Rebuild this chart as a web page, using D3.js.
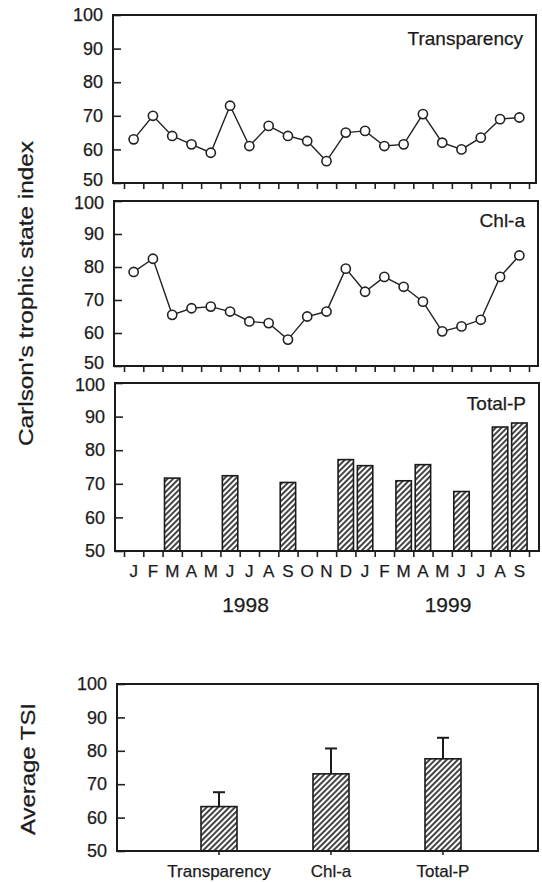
<!DOCTYPE html>
<html>
<head>
<meta charset="utf-8">
<script src="https://cdn.jsdelivr.net/npm/d3@7"></script>
<style>
  body { margin: 0; background: #fff; }
  svg { display: block; }
  text { font-family: "Liberation Sans", Arial, Helvetica, sans-serif; fill: #1b1b1b; stroke: #1b1b1b; stroke-width: 0.25; }
</style>
</head>
<body>
<svg id="chart" width="542" height="882"></svg>
<script>
// monthly data, Jan 1998 - Sep 1999
const months = ['J','F','M','A','M','J','J','A','S','O','N','D','J','F','M','A','M','J','J','A','S'];
const transparency = [63, 70, 64, 61.5, 59, 73, 61, 67, 64, 62.5, 56.5, 65, 65.5, 61, 61.5, 70.5, 62, 60, 63.5, 69, 69.5];
const chla = [78.5, 82.5, 65.5, 67.5, 68, 66.5, 63.5, 63, 58, 65, 66.5, 79.5, 72.5, 77, 74, 69.5, 60.5, 62, 64, 77, 83.5];
const totalPMonth = [2, 5, 8, 11, 12, 14, 15, 17, 19, 20];
const totalP = [71.7, 72.4, 70.4, 77.2, 75.4, 70.9, 75.7, 67.7, 86.9, 88.1];
const years = ['1998', '1999'];
const yearAt = [6.3, 16.8];   // in month units along the axis

// averages
const avgCats = ['Transparency', 'Chl-a', 'Total-P'];
const avgMean = [63.3, 73.1, 77.6];
const avgSd = [4.3, 7.6, 6.3];

const yTicks = [50, 60, 70, 80, 90, 100];

const svg = d3.select('#chart');

const defs = svg.append('defs');
defs.append('pattern')
  .attr('id', 'hatch')
  .attr('patternUnits', 'userSpaceOnUse')
  .attr('width', 4).attr('height', 4)
  .attr('patternTransform', 'rotate(45)')
  .call(p => p.append('rect').attr('width', 4).attr('height', 4).attr('fill', '#fff'))
  .append('line')
  .attr('x1', 1).attr('y1', 0).attr('x2', 1).attr('y2', 4)
  .attr('stroke', '#151515').attr('stroke-width', 1.6);

// panel boxes
const panels = [
  { left: 113, right: 536, top: 15, bottom: 183 },
  { left: 114, right: 538, top: 201, bottom: 366 },
  { left: 115, right: 539, top: 383, bottom: 551 },
  { left: 117, right: 538, top: 684, bottom: 851 }
];

const xBand = d3.scaleBand().domain(d3.range(months.length)).range([124, 529]);
const xEdge = d3.scaleLinear().domain([0, months.length]).range([124, 529]);

function frame(box, nudgeBottom, nudgeTop) {
  const y = d3.scaleLinear().domain([50, 100]).range([box.bottom, box.top]);
  const g = svg.append('g');

  g.append('g')
    .attr('transform', `translate(${box.left},0)`)
    .call(d3.axisLeft(y).tickValues(yTicks).tickSize(-8).tickPadding(10))
    .call(a => a.select('.domain').remove())
    .call(a => a.selectAll('line').attr('stroke', '#222').attr('stroke-width', 1.6))
    .call(a => a.selectAll('text').attr('font-size', 18).attr('fill', '#1b1b1b')
      .attr('dy', d => {
        // stacked panels: nudge the touching 50 / 100 labels apart
        if (nudgeBottom && d === 50) return '0.12em';
        if (nudgeTop && d === 100) return '0.42em';
        return '0.32em';
      }));

  g.append('rect')
    .attr('x', box.left).attr('y', box.top)
    .attr('width', box.right - box.left).attr('height', box.bottom - box.top)
    .attr('fill', 'none').attr('stroke', '#1b1b1b').attr('stroke-width', 2);
  return { g, y };
}

function monthTicks(g, box) {
  g.append('g')
    .attr('transform', `translate(0,${box.bottom})`)
    .call(d3.axisBottom(xEdge).tickValues(d3.range(months.length + 1)).tickSize(6).tickFormat(''))
    .call(a => a.select('.domain').remove())
    .call(a => a.selectAll('line').attr('stroke', '#222').attr('stroke-width', 1.6));
}

function title(g, box, text, baseline) {
  g.append('text')
    .attr('x', box.right - 13).attr('y', baseline)
    .attr('text-anchor', 'end').attr('font-size', 19)
    .text(text);
}

function linePanel(box, values, name, baseline, nudgeTop) {
  const { g, y } = frame(box, true, nudgeTop);
  monthTicks(g, box);
  const cx = i => xBand(i) + xBand.bandwidth() / 2;
  g.append('path')
    .datum(values)
    .attr('fill', 'none').attr('stroke', '#222').attr('stroke-width', 1.4)
    .attr('d', d3.line().x((d, i) => cx(i)).y(d => y(d)));
  g.selectAll('circle.pt')
    .data(values)
    .join('circle')
    .attr('class', 'pt')
    .attr('cx', (d, i) => cx(i)).attr('cy', d => y(d)).attr('r', 4.6)
    .attr('fill', '#fff').attr('stroke', '#222').attr('stroke-width', 1.6);
  title(g, box, name, baseline);
}

linePanel(panels[0], transparency, 'Transparency', 45, false);
linePanel(panels[1], chla, 'Chl-a', 227, true);

// Total-P bars
{
  const box = panels[2];
  const { g, y } = frame(box, false, true);
  const bw = xBand.bandwidth() * 0.8;
  g.selectAll('rect.bar')
    .data(totalP)
    .join('rect')
    .attr('class', 'bar')
    .attr('x', (d, i) => xBand(totalPMonth[i]) + (xBand.bandwidth() - bw) / 2)
    .attr('y', d => y(d))
    .attr('width', bw)
    .attr('height', d => y(50) - y(d))
    .attr('fill', 'url(#hatch)').attr('stroke', '#1b1b1b').attr('stroke-width', 1.6);
  g.select('rect').raise();
  monthTicks(g, box);
  title(g, box, 'Total-P', 410);

  g.append('g')
    .attr('transform', `translate(0,${box.bottom + 26})`)
    .call(d3.axisBottom(xBand).tickSize(0).tickPadding(0).tickFormat(i => months[i]))
    .call(a => a.select('.domain').remove())
    .call(a => a.selectAll('text').attr('font-size', 17).attr('dy', 0).attr('fill', '#1b1b1b'));

  g.selectAll('text.year')
    .data(years)
    .join('text')
    .attr('class', 'year')
    .attr('x', (d, i) => xEdge(yearAt[i])).attr('y', 612)
    .attr('text-anchor', 'middle').attr('font-size', 21)
    .text(d => d);
}

// shared y label
svg.append('text')
  .attr('transform', 'translate(33,293.5) rotate(-90)')
  .attr('text-anchor', 'middle').attr('font-size', 20)
  .attr('textLength', 305).attr('lengthAdjust', 'spacingAndGlyphs')
  .text("Carlson's trophic state index");

// Average TSI panel
{
  const box = panels[3];
  const { g, y } = frame(box, false, false);
  const xc = d3.scaleBand().domain(avgCats).range([163, 499]);
  const bw = 36;
  const cx = d => xc(d) + xc.bandwidth() / 2;

  g.selectAll('line.err')
    .data(avgCats)
    .join('line')
    .attr('class', 'err')
    .attr('x1', cx).attr('x2', cx)
    .attr('y1', (d, i) => y(avgMean[i])).attr('y2', (d, i) => y(avgMean[i] + avgSd[i]))
    .attr('stroke', '#1b1b1b').attr('stroke-width', 2);
  g.selectAll('line.cap')
    .data(avgCats)
    .join('line')
    .attr('class', 'cap')
    .attr('x1', d => cx(d) - 6).attr('x2', d => cx(d) + 6)
    .attr('y1', (d, i) => y(avgMean[i] + avgSd[i])).attr('y2', (d, i) => y(avgMean[i] + avgSd[i]))
    .attr('stroke', '#1b1b1b').attr('stroke-width', 2);

  g.selectAll('rect.bar')
    .data(avgCats)
    .join('rect')
    .attr('class', 'bar')
    .attr('x', d => cx(d) - bw / 2)
    .attr('y', (d, i) => y(avgMean[i]))
    .attr('width', bw)
    .attr('height', (d, i) => y(50) - y(avgMean[i]))
    .attr('fill', 'url(#hatch)').attr('stroke', '#1b1b1b').attr('stroke-width', 1.6);
  g.select('rect').raise();

  g.append('g')
    .attr('transform', `translate(0,${box.bottom})`)
    .call(d3.axisBottom(xc).tickSize(4).tickPadding(10))
    .call(a => a.select('.domain').remove())
    .call(a => a.selectAll('line').attr('stroke', '#222').attr('stroke-width', 1.6))
    .call(a => a.selectAll('text').attr('font-size', 17).attr('fill', '#1b1b1b'));

  svg.append('text')
    .attr('transform', 'translate(35,769) rotate(-90)')
    .attr('text-anchor', 'middle').attr('font-size', 20)
    .attr('textLength', 132).attr('lengthAdjust', 'spacingAndGlyphs')
    .text('Average TSI');
}
</script>
</body>
</html>
